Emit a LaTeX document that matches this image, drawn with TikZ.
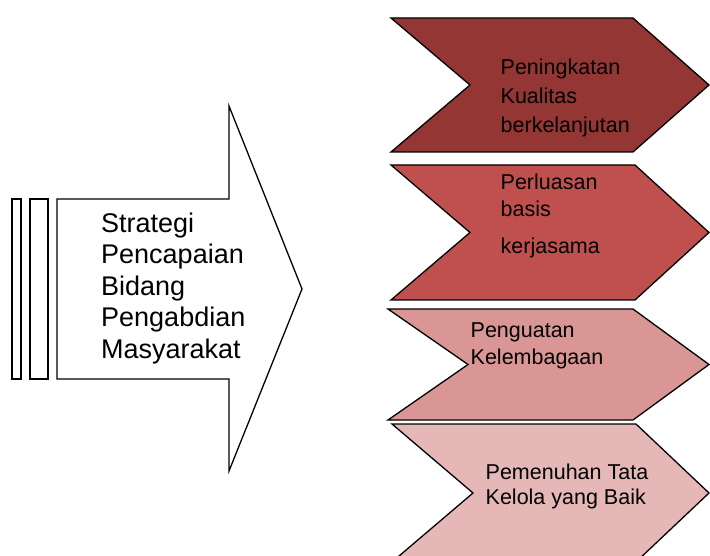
\documentclass[tikz,border=0pt]{standalone}
\usepackage{fontspec}
\setmainfont{Liberation Sans}
\definecolor{cA}{HTML}{943634}
\definecolor{cB}{HTML}{C0504D}
\definecolor{cC}{HTML}{D99694}
\definecolor{cD}{HTML}{E5B8B7}
\begin{document}
\begin{tikzpicture}[x=1pt,y=-1pt,line join=miter,
  outl/.style={draw=black,line width=1.3pt},
  lbl/.style={anchor=north west,inner sep=0pt,align=left}]
\useasboundingbox (0,0) rectangle (710,556);
\clip (0,0) rectangle (710,556);
% main striped arrow
\draw[outl,fill=white] (12,199) rectangle (21,379);
\draw[outl,fill=white] (30,199) rectangle (48,379);
\draw[outl,fill=white] (57,199) -- (229,199) -- (229,106) -- (302,289) -- (229,471) -- (229,379) -- (57,379) -- cycle;
\node[lbl,font=\fontsize{27}{31.5}\selectfont] (main) at (101,212.3)
  {Strategi\\Pencapaian\\Bidang\\Pengabdian\\Masyarakat};
% chevrons
\draw[outl,fill=cA] (391,18) -- (633,18) -- (709,85) -- (633,152) -- (391,152) -- (470,85) -- cycle;
\draw[outl,fill=cB] (391,165) -- (635,165) -- (709,232.5) -- (635,300) -- (391,300) -- (470,232.5) -- cycle;
\draw[outl,fill=cC] (388,309) -- (633,309) -- (709,364.5) -- (633,420) -- (388,420) -- (468,364.5) -- cycle;
\draw[outl,fill=cD] (392,424) -- (636,424) -- (709,493) -- (636,562) -- (392,562) -- (473,493) -- cycle;
\node[lbl,font=\fontsize{21.5}{29.4}\selectfont] (t1) at (500.5,58.3)
  {Peningkatan\\Kualitas\\berkelanjutan};
\node[lbl,font=\fontsize{21.5}{27.4}\selectfont] (t2) at (500.5,173.6)
  {Perluasan\\basis\\[9.2pt]kerjasama};
\node[lbl,font=\fontsize{21.5}{27}\selectfont] (t3) at (470.5,322.3)
  {Penguatan\\Kelembagaan};
\node[lbl,font=\fontsize{21.5}{24.5}\selectfont] (t4) at (485.5,463.8)
  {Pemenuhan Tata\\Kelola yang Baik};
\end{tikzpicture}
\end{document}
